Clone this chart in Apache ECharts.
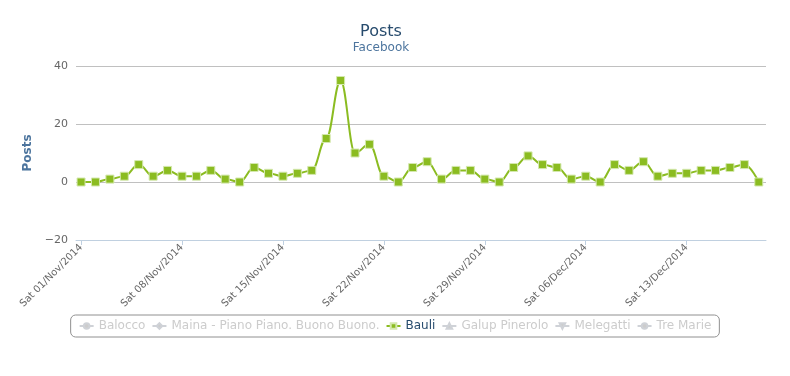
<!DOCTYPE html>
<html>
<head>
<meta charset="utf-8">
<script src="https://cdn.jsdelivr.net/npm/echarts@6/dist/echarts.min.js"></script>
<style>
  html, body { margin: 0; padding: 0; background: #fff; }
  #chart { width: 790px; height: 376px; }
</style>
</head>
<body>
<div id="chart"></div>
<script>
// daily posts, Sat 01/Nov/2014 .. Thu 18/Dec/2014
var bauliPosts = [
  0, 0, 1, 2, 6, 2, 4, 2, 2, 4, 1, 0, 5, 3,
  2, 3, 4, 15, 35, 10, 13, 2, 0, 5, 7, 1, 4, 4,
  1, 0, 5, 9, 6, 5, 1, 2, 0, 6, 4, 7, 2, 3,
  3, 4, 4, 5, 6, 0
];
// one label each week (day index 0, 7, 14 ...)
var tickDays = [0, 7, 14, 21, 28, 35, 42];
var tickLabels = [
  "Sat 01/Nov/2014", "Sat 08/Nov/2014", "Sat 15/Nov/2014", "Sat 22/Nov/2014",
  "Sat 29/Nov/2014", "Sat 06/Dec/2014", "Sat 13/Dec/2014"
];
var seriesNames = ["Balocco", "Maina - Piano Piano. Buono Buono.", "Bauli", "Galup Pinerolo", "Melegatti", "Tre Marie"];
var seriesSymbols = ["circle", "diamond", "rect", "triangle", "triangle", "circle"];
var yTicks = [-20, 0, 20, 40];

var font = "'DejaVu Sans', Verdana, sans-serif";
var myEchart = echarts.init(document.getElementById("chart"));

var selected = {};
seriesNames.forEach(function (n) { selected[n] = n == "Bauli"; });

var series = seriesNames.map(function (name, i) {
  var isBauli = name == "Bauli";
  return {
    name: name,
    type: "line",
    smooth: 0.4,
    smoothMonotone: "x",
    symbol: seriesSymbols[i],
    symbolRotate: i == 4 ? 180 : 0,
    symbolSize: 8,
    lineStyle: { width: 2, color: "#8bbc21" },
    itemStyle: { color: "#8bbc21", borderColor: "#d4e8ae", borderWidth: 1 },
    data: isBauli ? bauliPosts.map(function (v, d) { return [d, v]; }) : []
  };
});

var option = {
  animation: false,
  color: ["#8bbc21"],
  title: {
    text: "Posts",
    subtext: "Facebook",
    left: 376,
    textAlign: "center",
    top: 19,
    itemGap: 2,
    textStyle: { color: "#274b6d", fontSize: 16, fontWeight: "normal", fontFamily: font },
    subtextStyle: { color: "#4d759e", fontSize: 12, fontFamily: font }
  },
  grid: { left: 76, right: 24, top: 66, bottom: 136, containLabel: false },
  legend: {
    bottom: 39,
    left: "center",
    selected: selected,
    data: seriesNames,
    itemWidth: 14,
    itemHeight: 7,
    itemGap: 6,
    borderColor: "#909090",
    borderWidth: 1,
    borderRadius: 5,
    padding: [5, 8],
    inactiveColor: "#cccccc",
    textStyle: { color: "#274b6d", fontSize: 12, fontFamily: font }
  },
  xAxis: {
    type: "value",
    min: -0.35,
    max: 47.5,
    splitLine: { show: false },
    axisLine: { show: true, onZero: false, lineStyle: { color: "#c0d0e0" } },
    axisTick: { show: true, customValues: tickDays, length: 5, lineStyle: { color: "#c0d0e0" } },
    axisLabel: {
      customValues: tickDays,
      rotate: 45,
      margin: 6,
      color: "#666666",
      fontSize: 10,
      fontFamily: font,
      formatter: function (v) {
        var k = tickDays.indexOf(v);
        return k >= 0 ? tickLabels[k] : "";
      }
    }
  },
  yAxis: {
    type: "value",
    min: yTicks[0],
    max: yTicks[yTicks.length - 1],
    interval: 20,
    name: "Posts",
    nameLocation: "middle",
    nameRotate: 90,
    nameGap: 30,
    nameTextStyle: { color: "#4d759e", fontSize: 12, fontWeight: "bold", fontFamily: font },
    axisLine: { show: false },
    axisTick: { show: false },
    axisLabel: {
      color: "#666666", fontSize: 11, margin: 8, fontFamily: font,
      formatter: function (v) { return String(v).replace("-", "\u2212"); }
    },
    splitLine: { lineStyle: { color: "#c0c0c0" } }
  },
  series: series
};
myEchart.setOption(option);
window.addEventListener("resize", function () {
  myEchart.resize();
});
</script>
</body>
</html>
